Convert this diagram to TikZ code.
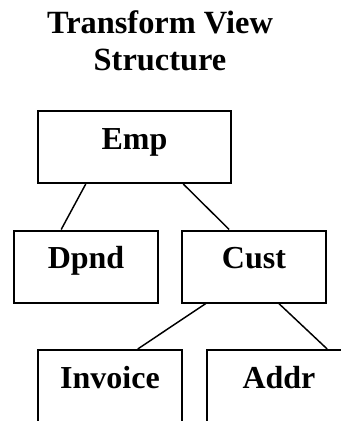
\documentclass[tikz,border=0pt]{standalone}
\usepackage{fontspec}
\setmainfont{Liberation Serif}
\usetikzlibrary{calc}
\tikzset{
  rec/.style ={draw=black, line width=1.5pt, fill=white, minimum width=108pt, minimum height=54pt,
               inner sep=0pt, font=\fontsize{24}{28}\selectfont\bfseries,
               text height=.7em, text depth=.33em},
  ln/.style  ={draw=black, line width=1.1pt},
  ttl/.style ={align=center, font=\fontsize{24.3}{27.75}\selectfont\bfseries},
}
\begin{document}
\begin{tikzpicture}[x=.75pt,y=-.75pt]
    \path[use as bounding box,clip] (0,0) rectangle (341,421);
    \node[ttl] (title) at (160,41) {Transform View\\ Structure};

    \node[rec,minimum width=144.75pt] (emp) at (134.5,147) {Emp};
    \node[rec] (dpnd) at (86,266.5) {Dpnd};
    \node[rec] (cust) at (254,266.5) {Cust};
    \node[rec] (inv) at (110,386) {Invoice};
    \node[rec] (addr) at (279,386) {Addr};

    \draw[ln] ($(emp.south west)!.25!(emp.south east)$) -- ($(dpnd.north west)!.33!(dpnd.north east)$);
    \draw[ln] ($(emp.south west)!.75!(emp.south east)$) -- ($(cust.north west)!.33!(cust.north east)$);
    \draw[ln] ($(cust.south west)!.17!(cust.south east)$) -- ($(inv.north west)!.69!(inv.north east)$);
    \draw[ln] ($(cust.south west)!.67!(cust.south east)$) -- ($(addr.north west)!.83!(addr.north east)$);
  \end{tikzpicture}
\end{document}
